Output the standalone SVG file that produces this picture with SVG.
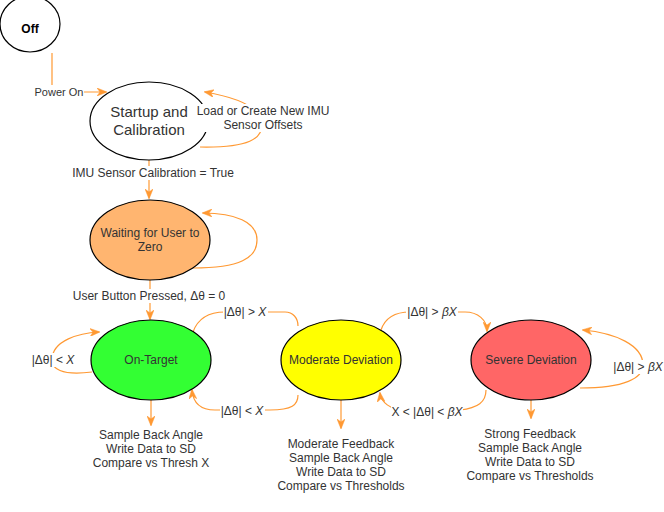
<svg xmlns="http://www.w3.org/2000/svg" width="664" height="512" viewBox="0 0 664 512">
<defs>
<style>
.e{fill:none;stroke:#FF9933;stroke-width:1.2}
.a{marker-end:url(#arr)}
.n{stroke:#000;stroke-width:1.2}
text{font-family:"Liberation Sans",Arial,sans-serif;fill:#333;text-anchor:middle;dominant-baseline:central}
.l{font-size:12px}
.s{font-size:11px}
.t{font-size:12px}
.bg{fill:#fff}
</style>
<marker id="arr" viewBox="0 0 10 8" refX="9" refY="4" markerWidth="10" markerHeight="8" markerUnits="userSpaceOnUse" orient="auto">
<path d="M0,0 L10,4 L0,8 L3,4 Z" fill="#FF9933" stroke="#FF9933" stroke-width="0.5"/>
</marker>
</defs>
<rect width="664" height="512" fill="#fff"/>
<g id="connectors">
<path class="e" d="M52,53 L52,92 L106,92" marker-end="url(#arr)"/>
<path class="e a" d="M200,147 C250,148 262,138 262,125 C262,108 240,98 205,92"/>
<path class="e a" d="M149,160 L149,198"/>
<path class="e a" d="M193,268 C240,268 257,258 257,240 C257,222 235,213 203,213"/>
<path class="e a" d="M150,280 L150,319"/>
<path class="e a" d="M92,372 C60,376 52,368 52,360 C52,340 80,333 99,332"/>
<path class="e" d="M193,332 C198,318 210,312 225,312 L285,312 C293,312 298,318 298,326"/>
<path class="e a" d="M298,395 C298,405 292,410 270,410 L215,410 C200,410 193,402 192,390"/>
<path class="e a" d="M381,330 C385,318 395,312 410,312 L465,312 C478,312 487,320 487,331"/>
<path class="e a" d="M486,390 C486,402 478,408 460,410 L405,410 C390,410 381,402 380,393"/>
<path class="e a" d="M580,388 C625,388 643,378 643,365 C643,345 615,333 583,330"/>
<path class="e a" d="M151,400 L151,425"/>
<path class="e a" d="M341,400 L341,428"/>
<path class="e a" d="M531,400 L531,418"/>
<rect class="bg" x="34" y="85" width="50" height="14"/>
<text class="s" x="59" y="92">Power On</text>
<rect class="bg" x="72" y="166" width="162" height="14"/>
<text class="l" x="153" y="173">IMU Sensor Calibration = True</text>
<rect class="bg" x="72" y="289" width="154" height="14"/>
<text class="l" x="149" y="296">User Button Pressed, Δθ = 0</text>
<rect class="bg" x="31" y="353" width="45" height="14"/>
<text class="l" x="53" y="360">|Δθ| &lt; <tspan font-style="italic">X</tspan></text>
<rect class="bg" x="223" y="305" width="45" height="14"/>
<text class="l" x="245" y="312">|Δθ| &gt; <tspan font-style="italic">X</tspan></text>
<rect class="bg" x="220" y="404" width="45" height="14"/>
<text class="l" x="242" y="411">|Δθ| &lt; <tspan font-style="italic">X</tspan></text>
<rect class="bg" x="406" y="305" width="52" height="14"/>
<text class="l" x="432" y="312">|Δθ| &gt; <tspan font-style="italic">βX</tspan></text>
<rect class="bg" x="391" y="405" width="72" height="14"/>
<text class="l" x="427" y="412">X &lt; |Δθ| &lt; <tspan font-style="italic">βX</tspan></text>
<rect class="bg" x="612" y="360" width="52" height="14"/>
<text class="l" x="638" y="367">|Δθ| &gt; <tspan font-style="italic">βX</tspan></text>
</g>
<g id="off">
<ellipse class="n" cx="30" cy="24" rx="30" ry="28" fill="#fff"/>
<text x="30" y="29" style="font-size:12px;font-weight:bold;fill:#000">Off</text>
</g>
<g id="startup">
<ellipse class="n" cx="149" cy="121" rx="59" ry="39" fill="#fff"/>
<text x="149" y="111" style="font-size:15px">Startup and</text>
<text x="149" y="129" style="font-size:15px">Calibration</text>
</g>
<g id="waiting">
<ellipse class="n" cx="150" cy="240" rx="60" ry="40" fill="#FFB570"/>
<text class="t" x="150" y="233">Waiting for User to</text>
<text class="t" x="150" y="247">Zero</text>
</g>
<g id="ontarget">
<ellipse class="n" cx="151" cy="360" rx="60" ry="40" fill="#33FF33"/>
<text class="t" x="151" y="360">On-Target</text>
</g>
<g id="moderate">
<ellipse class="n" cx="341" cy="360" rx="60" ry="40" fill="#FFFF00"/>
<text class="t" x="341" y="360">Moderate Deviation</text>
</g>
<g id="severe">
<ellipse class="n" cx="531" cy="360" rx="60" ry="40" fill="#FF6666"/>
<text class="t" x="531" y="360">Severe Deviation</text>
</g>
<g id="startup-loop-label">
<rect class="bg" x="196" y="104" width="134" height="28"/>
<text class="l" x="263" y="111">Load or Create New IMU</text>
<text class="l" x="263" y="125">Sensor Offsets</text>
</g>
<g id="ontarget-actions">
<text class="t" x="151" y="435">Sample Back Angle</text>
<text class="t" x="151" y="449">Write Data to SD</text>
<text class="t" x="151" y="463">Compare vs Thresh X</text>
</g>
<g id="moderate-actions">
<text class="t" x="341" y="444">Moderate Feedback</text>
<text class="t" x="341" y="458">Sample Back Angle</text>
<text class="t" x="341" y="472">Write Data to SD</text>
<text class="t" x="341" y="486">Compare vs Thresholds</text>
</g>
<g id="severe-actions">
<text class="t" x="530" y="434">Strong Feedback</text>
<text class="t" x="530" y="448">Sample Back Angle</text>
<text class="t" x="530" y="462">Write Data to SD</text>
<text class="t" x="530" y="476">Compare vs Thresholds</text>
</g>
</svg>
